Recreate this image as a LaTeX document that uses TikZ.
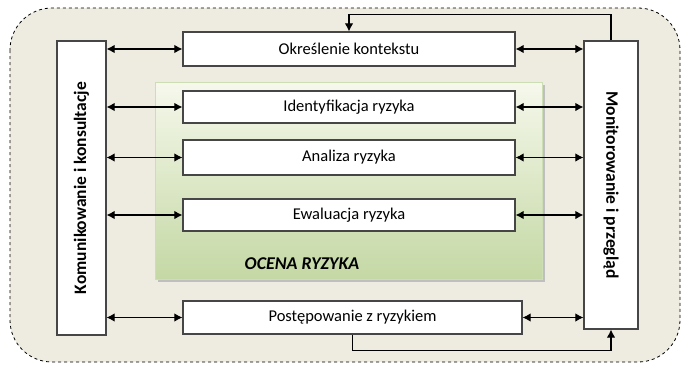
\documentclass[tikz,border=0pt]{standalone}
\usepackage{fontspec}
\setmainfont{Carlito}
\usetikzlibrary{arrows.meta,shadows,calc}
\definecolor{bgbeige}{RGB}{238,235,225}
\definecolor{boxline}{RGB}{70,70,70}
\definecolor{greentop}{RGB}{246,248,236}
\definecolor{greenbot}{RGB}{196,216,164}
\definecolor{greenline}{RGB}{205,222,180}
\tikzset{
  stepbox/.style={draw=boxline,line width=1.2pt,fill=white,inner sep=0pt,font=\fontsize{16.5}{17}\selectfont},
  sidebox/.style={draw=boxline,line width=1.2pt,fill=white,inner sep=0pt,font=\bfseries\fontsize{17.5}{18}\selectfont},
  link/.style={line width=1.1pt,{Latex[length=8pt,width=8.5pt]}-{Latex[length=8pt,width=8.5pt]}},
  loop/.style={line width=1.1pt,-{Latex[length=8pt,width=8.5pt]}}
}
\begin{document}
\begin{tikzpicture}[x=1pt,y=-1pt]
\useasboundingbox (0,0) rectangle (682,364);
% outer dashed region
\draw[dashed,line width=0.8pt,fill=bgbeige,rounded corners=42pt] (10,8) rectangle (680,362);
% green assessment region
\fill[black!25] (158,85) rectangle (545,282);
\shade[top color=greentop,bottom color=greenbot,draw=greenline,line width=0.8pt] (155,82) rectangle (542,279);
\node[font=\bfseries\itshape\fontsize{18}{19}\selectfont] (ocena) at (302,264) {OCENA RYZYKA};
% side boxes
\node[sidebox,rotate=90,minimum width=294pt,minimum height=49pt] (left) at (81.5,188) {Komunikowanie i konsultacje};
\node[sidebox,rotate=-90,minimum width=288pt,minimum height=54pt] (right) at (611,185) {Monitorowanie i przegląd};
% step boxes
\node[stepbox,minimum width=332pt,minimum height=34pt] (ctx) at (349,49) {Określenie kontekstu};
\node[stepbox,minimum width=332pt,minimum height=32pt] (ident) at (349,107) {Identyfikacja ryzyka};
\node[stepbox,minimum width=332pt,minimum height=35pt] (anal) at (349,157.5) {Analiza ryzyka};
\node[stepbox,minimum width=332pt,minimum height=32pt] (ewal) at (349,215) {Ewaluacja ryzyka};
\node[stepbox,minimum width=339pt,minimum height=33pt] (post) at (352.5,317.5) {Postępowanie z ryzykiem};
% links
\foreach \n in {ctx,ident,anal,ewal,post}{
  \draw[link] (\n.west -| left.south) -- (\n.west);
  \draw[link] (\n.east) -- (\n.east -| right.south);
}
% feedback loop
\draw[loop] (right.west) -- ++(0,-26) -| (ctx.north);
\draw[loop] (post.south) -- ++(0,16) -| (right.east);
\end{tikzpicture}
\end{document}
